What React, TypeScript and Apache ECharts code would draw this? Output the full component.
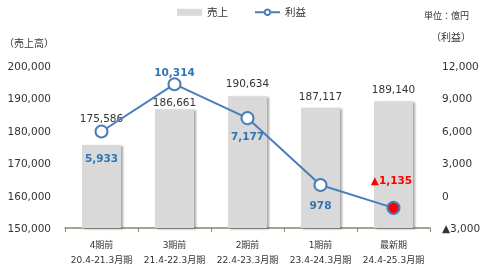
import React, { useEffect, useRef } from "react";
import * as echarts from "echarts";

const categories = ["4期前\n20.4-21.3月期", "3期前\n21.4-22.3月期", "2期前\n22.4-23.3月期", "1期前\n23.4-24.3月期", "最新期\n24.4-25.3月期"];
const sales = [175586, 186661, 190634, 187117, 189140];
const profit = [5933, 10314, 7177, 978, -1135];
const salesLabelGap = [22, 2, 8, 7, 7];
const profitLabelPos = ["bottom", "top", "bottom", "bottom", "top"];
const profitLabelGap = [14, 0, 6, 8, 16];

const FONT = "'DejaVu Sans', 'Noto Sans CJK JP', sans-serif";
const fmt = (v: number) => (v < 0 ? "▲" : "") + Math.abs(v).toLocaleString("en-US");

export default function App() {
  const ref = useRef<HTMLDivElement>(null);
  useEffect(() => {
    const chart = echarts.init(ref.current!, null, { renderer: "svg" });
    chart.setOption({
      animation: false,
      textStyle: { fontFamily: FONT },
      legend: {
        top: 2,
        left: 172,
        itemWidth: 25,
        itemHeight: 7,
        itemGap: 26,
        textStyle: { fontSize: 10.5, color: "#333", fontFamily: FONT },
        data: [{ name: "売上", icon: "rect" }, { name: "利益" }],
      },
      grid: { left: 65, right: 60, top: 66, bottom: 39 },
      graphic: [
        { type: "text", left: 424, top: 11, style: { text: "単位：億円", fontSize: 9, fill: "#333", fontFamily: FONT } },
        { type: "text", left: 431, top: 32, style: { text: "（利益）", fontSize: 10, fill: "#333", fontFamily: FONT } },
        { type: "text", left: 4, top: 38, style: { text: "（売上高）", fontSize: 10, fill: "#333", fontFamily: FONT } },
      ],
      xAxis: {
        type: "category",
        data: categories,
        axisLine: { onZero: false, lineStyle: { color: "#86866f", width: 1.5 } },
        axisTick: { show: true, length: 4, lineStyle: { color: "#86866f" } },
        axisLabel: { interval: 0, fontSize: 9, color: "#333", lineHeight: 15, margin: 9, fontFamily: FONT },
      },
      yAxis: [
        {
          type: "value",
          min: 150000,
          max: 200000,
          interval: 10000,
          splitLine: { show: false },
          axisLine: { show: false },
          axisTick: { show: false },
          axisLabel: { fontSize: 10.5, color: "#333", margin: 14, formatter: (v: number) => fmt(v), fontFamily: FONT },
        },
        {
          type: "value",
          min: -3000,
          max: 12000,
          interval: 3000,
          splitLine: { show: false },
          axisLine: { show: false },
          axisTick: { show: false },
          axisLabel: { fontSize: 10.5, color: "#333", margin: 12, formatter: (v: number) => fmt(v), fontFamily: FONT },
        },
      ],
      series: [
        {
          name: "売上",
          type: "bar",
          yAxisIndex: 0,
          barWidth: 39,
          itemStyle: {
            color: "#d9d9d9",
            shadowColor: "rgba(0,0,0,0.35)",
            shadowOffsetX: 2,
            shadowOffsetY: 1,
            shadowBlur: 2,
          },
          data: sales.map((v, i) => ({
            value: v,
            label: {
              show: true,
              position: "top",
              distance: salesLabelGap[i],
              fontSize: 10.5,
              color: "#333",
              fontFamily: FONT,
              formatter: (p: any) => fmt(p.value),
            },
          })),
        },
        {
          name: "利益",
          type: "line",
          yAxisIndex: 1,
          symbol: "circle",
          symbolSize: 12,
          lineStyle: { color: "#4a7ebb", width: 2 },
          itemStyle: { color: "#fff", borderColor: "#4a7ebb", borderWidth: 2 },
          data: profit.map((v, i) => ({
            value: v,
            itemStyle: v < 0 ? { color: "#ff0000", borderColor: "#4a7ebb", borderWidth: 2 } : undefined,
            label: {
              show: true,
              position: profitLabelPos[i],
              distance: profitLabelGap[i],
              offset: v < 0 ? [-2, 0] : [0, 0],
              fontSize: 10.5,
              fontWeight: "bold",
              color: v < 0 ? "#ff0000" : "#2e75b6",
              fontFamily: FONT,
              formatter: (p: any) => fmt(p.value),
            },
          })),
        },
      ],
    });
    return () => chart.dispose();
  }, []);
  return <div ref={ref} style={{ position: "fixed", left: 0, top: 0, width: 490, height: 267 }} />;
}
